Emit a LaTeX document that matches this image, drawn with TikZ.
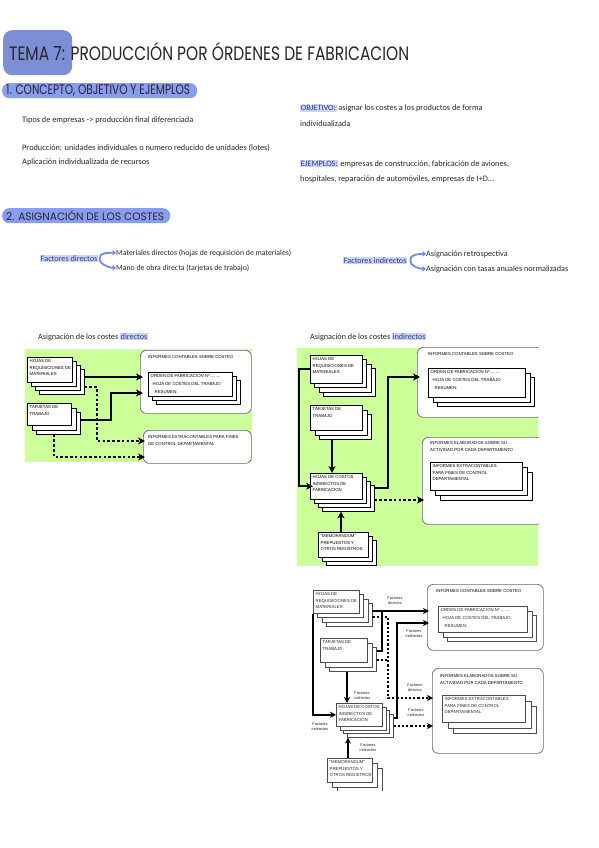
\documentclass[tikz,border=0pt]{standalone}
\usepackage{fontspec}
\setmainfont{Carlito}
\newfontfamily\headfont{Poppins}
\newfontfamily\dfont{Liberation Sans}
\usetikzlibrary{arrows.meta}
\definecolor{titleblue}{RGB}{124,142,214}
\definecolor{pillblue}{RGB}{136,156,240}
\definecolor{hlbg}{RGB}{204,212,250}
\definecolor{hltext}{RGB}{45,60,150}
\definecolor{lgreen}{RGB}{204,255,153}
\definecolor{boxgray}{RGB}{105,105,105}
\definecolor{curlblue}{RGB}{112,138,242}
\definecolor{ink}{RGB}{40,40,40}
\newcommand\hlt[1]{{\setlength\fboxsep{0.6pt}\colorbox{hlbg}{\textcolor{hltext}{#1}}}}
% #1 name, #2 x, #3 y, #4 w, #5 h, #6 back sheets, #7 offset, #8 text
\newcommand\sheetstack[8]{%
  \foreach \k in {#6,...,1}{%
    \node[sheet, minimum width=#4, minimum height=#5] (#1-b\k) at ({#2+\k*#7},{#3+\k*#7}) {};
  }%
  \node[sheet, minimum width=#4, minimum height=#5] (#1) at (#2,#3) {};
  \node[sheettext] (#1-t) at ([xshift=2.5pt,yshift=-2.5pt]#1.north west) {#8};
}
\begin{document}
\begin{tikzpicture}[x=1pt,y=-1pt,
  body/.style={anchor=base west, inner sep=0pt, font=\fontsize{8.3}{10}\selectfont, text=ink},
  small/.style={anchor=base west, inner sep=0pt, font=\fontsize{8.2}{9}\selectfont, text=ink},
  pill/.style={fill=pillblue, rounded corners=7pt, anchor=north west, inner sep=0pt},
  pilltext/.style={anchor=base west, inner sep=0pt, text=ink},
  sheet/.style={draw=black, line width=0.5pt, fill=white, inner sep=0pt, anchor=north west},
  sheettext/.style={anchor=north west, inner sep=0pt, align=left, font=\dfont\fontsize{4.3}{6.4}\selectfont},
  bigbox/.style={draw=boxgray, line width=0.7pt, fill=white, rounded corners=6pt, anchor=north west, inner sep=0pt},
  boxtitle/.style={anchor=north west, inner sep=0pt, align=left, font=\dfont\fontsize{4.3}{6.8}\selectfont},
  conn/.style={line width=2.2pt, -{Stealth[length=7pt,width=7pt,inset=2.2pt]}, shorten >=-3pt},
  line/.style={line width=2.2pt},
  dconn/.style={line width=2.2pt, dash pattern=on 2.6pt off 2.2pt, -{Stealth[length=7pt,width=7pt,inset=2.2pt]}, shorten >=-2pt},
  conn3/.style={line width=1.8pt, -{Stealth[length=6pt,width=6pt,inset=1.8pt]}, shorten >=-2pt},
  line3/.style={line width=1.8pt},
  dconn3/.style={line width=1.8pt, dash pattern=on 2.2pt off 2pt, -{Stealth[length=6pt,width=6pt,inset=1.8pt]}, shorten >=-1pt},
  dline3/.style={line width=1.8pt, dash pattern=on 2.2pt off 2pt},
  curl/.style={draw=curlblue, line width=1.8pt, -{Triangle[length=3.5pt,width=5.5pt]}},
  flabel/.style={align=center, inner sep=0pt, font=\dfont\fontsize{3.9}{4.8}\selectfont, text=ink},
]
\path[use as bounding box, fill=white] (0,0) rectangle (599,848);

% ---------- title ----------
\node[fill=titleblue, rounded corners=9pt, anchor=north west, minimum width=69, minimum height=45, inner sep=0pt] (tbox) at (3,30) {};
\node[anchor=base west, inner sep=0pt, text=ink] (title) at (9,61) {\headfont\resizebox{400pt}{18pt}{TEMA 7: PRODUCCIÓN POR ÓRDENES DE FABRICACION}};

% ---------- section 1 ----------
\node[pill, minimum width=195, minimum height=15] (s1) at (2,83) {};
\node[pilltext] (s1t) at (6,95) {\headfont\resizebox{184pt}{10pt}{1. CONCEPTO, OBJETIVO Y EJEMPLOS}};
\node[body] (p1) at (22,123) {Tipos de empresas -> producción final diferenciada};
\node[body] (p2) at (22,150) {Producción: unidades individuales o numero reducido de unidades (lotes)};
\node[body] (p3) at (22,164) {Aplicación individualizada de recursos};
\node[body] (o1) at (300,111) {\hlt{OBJETIVO:} asignar los costes a los productos de forma};
\node[body] (o2) at (300,126) {individualizada};
\node[body] (e1) at (300,166) {\hlt{EJEMPLOS:} empresas de construcción, fabricación de aviones,};
\node[body] (e2) at (300,181) {hospitales, reparación de automóviles, empresas de I+D...};

% ---------- section 2 ----------
\node[pill, minimum width=168, minimum height=15] (s2) at (2,208) {};
\node[pilltext] (s2t) at (6,220) {\headfont\resizebox{158pt}{10pt}{2. ASIGNACIÓN DE LOS COSTES}};
\node[small] (fd) at (40,261) {\hlt{Factores directos}};
\node[small, font=\fontsize{7.8}{9}\selectfont] (md) at (116,255) {Materiales directos (hojas de requisición de materiales)};
\node[small, font=\fontsize{7.8}{9}\selectfont] (mo) at (116,270) {Mano de obra directa (tarjetas de trabajo)};
\draw[curl] ([xshift=1.5pt]fd.east) .. controls +(-1,-6) and +(-6,0) .. (md.west);
\draw[curl] ([xshift=1.5pt]fd.east) .. controls +(-1,6) and +(-6,0) .. (mo.west);
\node[small] (fi) at (343,263) {\hlt{Factores indirectos}};
\node[small] (ar) at (426,256) {Asignación retrospectiva};
\node[small] (at) at (426,271) {Asignación con tasas anuales normalizadas};
\draw[curl] ([xshift=3pt]fi.east) .. controls +(-1,-6) and +(-6,0) .. (ar.west);
\draw[curl] ([xshift=3pt]fi.east) .. controls +(-1,6) and +(-6,0) .. (at.west);

% ---------- diagram 1 ----------
\node[small] (d1t) at (38,339) {Asignación de los costes \hlt{directos}};
\fill[lgreen] (25,349) rectangle (252,462);
\node[bigbox, minimum width=111, minimum height=63] (ic1) at (140,350) {};
\node[boxtitle] (ic1t) at (148,355) {INFORMES CONTABLES SOBRE COSTEO};
\sheetstack{of1}{148}{372}{84}{24}{2}{4}{ORDEN DE FABRICACION Nº.........\\[1.4pt]\hspace*{2pt}HOJA DE COSTES DEL TRABAJO\\[1.4pt]\hspace*{4pt}RESUMEN:}
\node[bigbox, minimum width=108, minimum height=33] (ie1) at (143,430) {};
\node[boxtitle] (ie1t) at (148,435) {INFORMES EXTRACONTABLES PARA FINES\\DE CONTROL DEPARTAMENTAL};
\sheetstack{hm1}{27}{357}{45}{25}{3}{4}{HOJAS DE\\REQUISICIONES DE\\MATERIALES}
\sheetstack{tt1}{27}{403}{44}{22}{2}{4.5}{TARJETAS DE\\TRABAJO}
\draw[conn] (hm1-b3.east |- 0,377) -- (ic1.west |- 0,377);
\draw[conn] (tt1-b2.east |- 0,420) -| (111,393) -- (ic1.west |- 0,393);
\draw[dconn] (hm1-b3.east |- 0,387) -| (97,441) -- (ie1.west |- 0,441);
\draw[dconn] (54,0 |- tt1-b2.south) |- (ie1.west |- 0,457);

% ---------- diagram 2 ----------
\node[small] (d2t) at (310,339) {Asignación de los costes \hlt{indirectos}};
\fill[lgreen] (297,348) rectangle (538,566);
\begin{scope}
  \clip (290,340) rectangle (538.5,570);
  \node[bigbox, minimum width=125, minimum height=70] (ic2) at (417,347) {};
  \node[bigbox, minimum width=120, minimum height=87] (ie2) at (422,437) {};
\end{scope}
\node[boxtitle] (ic2t) at (428,352) {INFORMES CONTABLES SOBRE COSTEO};
\sheetstack{of2}{428}{368}{97}{29}{2}{4.5}{ORDEN DE FABRICACION Nº.........\\[1.6pt]\hspace*{2pt}HOJA DE COSTES DEL TRABAJO\\[1.6pt]\hspace*{4pt}RESUMEN:}
\node[boxtitle] (ie2t) at (430,441) {INFORMES ELABORADOS SOBRE SU\\ACTIVIDAD POR CADA DEPARTAMENTO};
\sheetstack{ex2}{430}{462}{92}{28}{2}{5}{INFORMES EXTRACONTABLES\\PARA FINES DE CONTROL\\DEPARTAMENTAL}
\sheetstack{hm2}{310}{355}{52}{28}{3}{4.3}{HOJAS DE\\REQUISICIONES DE\\MATERIALES}
\sheetstack{tt2}{310}{405}{52}{25}{2}{4.5}{TARJETAS DE\\TRABAJO}
\sheetstack{co2}{310}{473}{52}{26}{3}{4}{HOJAS DE COSTOS\\INDIRECTOS DE\\FABRICACION}
\begin{scope}
  \clip (300,520) rectangle (400,566);
  \sheetstack{me2}{318}{532}{50}{25}{2}{4}{"MEMORANDUM"\\PREPUESTOS Y\\OTROS REGISTROS}
\end{scope}
\draw[conn] (hm2.west) -- ++(-11,0) |- (co2.west);
\draw[conn, shorten >=0pt] (332,0 |- tt2-b2.south) -- (332,0 |- co2.north);
\draw[conn, shorten >=0pt] (341,0 |- me2.north) -- (341,0 |- co2-b3.south);
\draw[conn] (co2-b3.east |- 0,488) -| (388,377) -- (ic2.west |- 0,377);
\draw[dconn] (co2-b3.east |- 0,500) -- (ie2.west |- 0,500);

% ---------- diagram 3 ----------
\begin{scope}[sheet/.append style={draw=black!70}, sheettext/.append style={text=black!85}]
\node[bigbox, minimum width=116, minimum height=66] (ic3) at (427,584) {};
\node[boxtitle] (ic3t) at (436,589) {INFORMES CONTABLES SOBRE COSTEO};
\sheetstack{of3}{438}{606}{89}{26}{2}{4.5}{ORDEN DE FABRICACION Nº.........\\[1.4pt]\hspace*{2pt}HOJA DE COSTES DEL TRABAJO\\[1.4pt]\hspace*{4pt}RESUMEN:}
\node[bigbox, minimum width=111, minimum height=85] (ie3) at (432,668) {};
\node[boxtitle] (ie3t) at (440,674) {INFORMES ELABORADOS SOBRE SU\\ACTIVIDAD POR CADA DEPARTAMENTO};
\sheetstack{ex3}{442}{695}{83}{27}{2}{5.5}{INFORMES EXTRACONTABLES\\PARA FINES DE CONTROL\\DEPARTAMENTAL}
\sheetstack{hm3}{313}{590}{46}{23}{3}{4.3}{HOJAS DE\\REQUISICIONES DE\\MATERIALES}
\sheetstack{tt3}{320}{638}{47}{24}{2}{4.5}{TARJETAS DE\\TRABAJO}
\sheetstack{co3}{336}{703}{46}{23}{3}{3.7}{HOJAS DE COSTOS\\INDIRECTOS DE\\FABRICACION}
\begin{scope}
  \clip (300,750) rectangle (400,790);
  \sheetstack{me3}{327}{758}{45}{24}{2}{5}{"MEMORANDUM"\\PREPUESTOS Y\\OTROS REGISTROS}
\end{scope}
\end{scope}
\draw[conn3] (hm3-b3.east |- 0,611) -- (ic3.west |- 0,611);
\draw[line3] (tt3-b2.east |- 0,651) -| (382,611);
\draw[dconn3] (hm3-b3.east |- 0,617) -| (388,698) -- (ie3.west |- 0,698);
\draw[dline3] (tt3-b2.east |- 0,660) -- (388,660);
\draw[conn3] (co3-b3.east |- 0,718) -| (397,623) -- (ic3.west |- 0,623);
\draw[dconn3] (co3-b3.east |- 0,726) -- (ie3.west |- 0,726);
\draw[conn3, shorten >=0pt] (hm3.south west) |- (co3.west);
\draw[conn3, shorten >=0pt] (347,0 |- tt3-b2.south) -- (347,0 |- co3.north);
\draw[conn3, shorten >=0pt] (348,0 |- me3.north) -- (348,0 |- co3-b3.south);
\node[flabel] (l1) at (395,601) {Factores\\directos};
\node[flabel] (l2) at (414,634) {Factores\\indirectos};
\node[flabel] (l3) at (362,696) {Factores\\indirectos};
\node[flabel] (l4) at (415,688) {Factores\\directos};
\node[flabel] (l5) at (416,713) {Factores\\indirectos};
\node[flabel] (l6) at (320,727) {Factores\\indirectos};
\node[flabel] (l7) at (368,748) {Factores\\indirectos};
\end{tikzpicture}
\end{document}
